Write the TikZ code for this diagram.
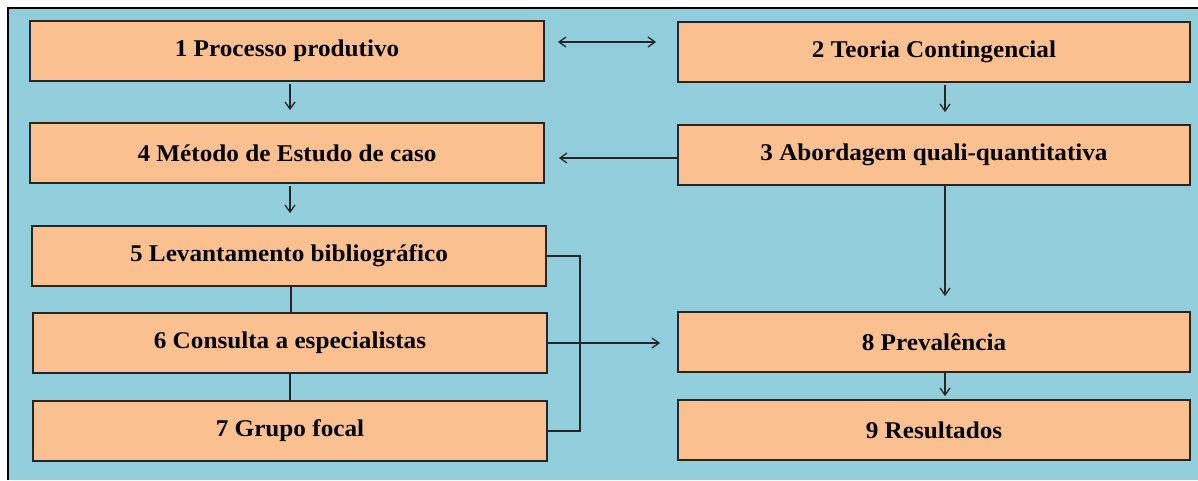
\documentclass[tikz,border=0pt]{standalone}
\usepackage{fontspec}
\setmainfont[FakeStretch=1.05]{Liberation Serif}
\usepackage{xcolor}
\usetikzlibrary{arrows.meta}

\definecolor{bgblue}{HTML}{92CDDC}
\definecolor{boxorange}{HTML}{FAC090}

\begin{document}
\begin{tikzpicture}%
                [x=1pt, y=-1pt,
                box/.style={draw=black!85, line width=1.8pt, fill=boxorange,
                            minimum width=514pt, minimum height=60pt, inner sep=0pt,
                            font=\fontsize{24}{28}\selectfont\bfseries},
                rbox/.style={box, minimum width=512pt},
                link/.style={color=black!85, line width=1.3pt},
                arr/.style={link, -{Straight Barb[length=7pt,width=10pt]}}]

            \useasboundingbox (0,0) rectangle (1198,480);
            %% Background
            \fill[bgblue] (8,8) rectangle (1198,480);
            \draw[line width=1.5pt] (8,480) -- (8,8) -- (1198,8);
            %%
            %% Boxes
            %%
            \node[box]  (proc)     at (287,51)  {1 Processo produtivo};
            \node[rbox] (teoria)   at (934,52)  {2 Teoria Contingencial};
            \node[box]  (metodo)   at (287,153) {4 Método de Estudo de caso};
            \node[rbox] (abord)    at (934,155) {3 Abordagem quali-quantitativa};
            \node[box]  (levant)   at (289,256) {5 Levantamento bibliográfico};
            \node[box]  (consulta) at (290,343) {6 Consulta a especialistas};
            \node[box]  (grupo)    at (290,431) {7 Grupo focal};
            \node[rbox] (preval)   at (934,342) {8 Prevalência};
            \node[rbox] (result)   at (934,430) {9 Resultados};
            \coordinate (bracket) at (580,343);
            %%
            %% Connectors
            %%
            \draw[arr, {Straight Barb[length=7pt,width=10pt]}-{Straight Barb[length=7pt,width=10pt]}]
                ([xshift=13pt,yshift=9pt]proc.east) -- ([xshift=-21pt,yshift=10pt]teoria.west);
            \draw[arr, shorten <=2pt, shorten >=12pt] ([xshift=3pt]proc.south) -- ([xshift=3pt]metodo.north);
            \draw[arr, shorten <=2pt, shorten >=12pt] ([xshift=3pt]metodo.south) -- ([xshift=3pt]metodo.south |- levant.north);
            \draw[link] ([xshift=2pt]levant.south) -- ([xshift=2pt]levant.south |- consulta.north);
            \draw[link] (consulta.south) -- (grupo.north);
            \draw[link] (levant.east) -| (bracket) |- (grupo.east);
            \draw[arr, shorten >=17pt] (consulta.east) -- (consulta.east -| preval.west);
            \draw[arr, shorten <=2pt, shorten >=12pt] ([xshift=11pt]teoria.south) -- ([xshift=11pt]abord.north);
            \draw[arr, shorten >=14pt] ([yshift=-3pt]abord.west) -- ([yshift=-3pt]abord.west -| metodo.east);
            \draw[arr, shorten >=15pt] ([xshift=11pt]abord.south) -- ([xshift=11pt]preval.north);
            \draw[arr, shorten >=3pt] ([xshift=11pt]preval.south) -- ([xshift=11pt]result.north);
            %%
\end{tikzpicture}
\end{document}
